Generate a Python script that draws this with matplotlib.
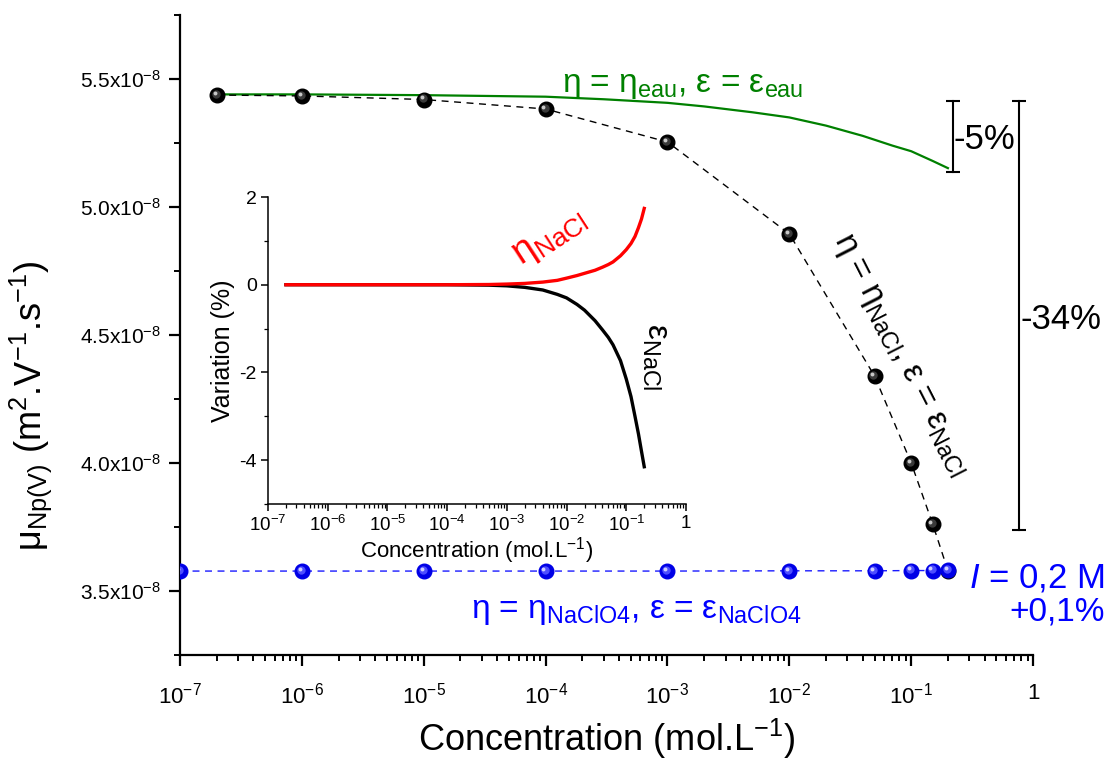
import numpy as np
import matplotlib.pyplot as plt
from matplotlib import transforms
from matplotlib.ticker import FixedLocator, LogLocator, NullFormatter, MultipleLocator

plt.rcParams['font.family'] = ['Liberation Sans', 'DejaVu Sans']
plt.rcParams['mathtext.fontset'] = 'custom'
plt.rcParams['mathtext.rm'] = 'Liberation Sans'
plt.rcParams['mathtext.it'] = 'Liberation Sans:italic'
plt.rcParams['mathtext.bf'] = 'Liberation Sans:bold'

# main plot data (mobility, m2/V/s)
conc_nacl = [2e-7, 1e-6, 1e-5, 1e-4, 1e-3, 1e-2, 0.05, 0.1, 0.15, 0.2]
mob_nacl = [5.4375e-8, 5.434e-8, 5.42e-8, 5.383e-8, 5.254e-8, 4.895e-8, 4.34e-8, 4.0e-8, 3.762e-8, 3.58e-8]

conc_clo4 = [1e-7, 1e-6, 1e-5, 1e-4, 1e-3, 1e-2, 0.05, 0.1, 0.15, 0.2]
mob_clo4 = [3.578e-8, 3.578e-8, 3.578e-8, 3.578e-8, 3.578e-8, 3.579e-8, 3.579e-8, 3.58e-8, 3.58e-8, 3.581e-8]

conc_eau = [2e-7, 1e-6, 1e-5, 1e-4, 3e-4, 1e-3, 2e-3, 5e-3, 1e-2, 2e-2, 4e-2, 7e-2, 0.1, 0.15, 0.2]
mob_eau = [5.44e-8, 5.44e-8, 5.437e-8, 5.431e-8, 5.421e-8, 5.407e-8, 5.393e-8, 5.37e-8, 5.35e-8,
           5.318e-8, 5.278e-8, 5.24e-8, 5.218e-8, 5.18e-8, 5.152e-8]

# inset data (variation, %)
conc_var = [2e-7, 1e-6, 1e-5, 1e-4, 5e-4, 1e-3, 2e-3, 4e-3, 7e-3, 1e-2, 1.5e-2, 2e-2, 3e-2, 4e-2,
            5e-2, 6e-2, 8e-2, 0.1, 0.12, 0.14, 0.16, 0.18, 0.2]
var_eta = [0, 0, 0, 0, 0.005, 0.015, 0.03, 0.06, 0.1, 0.15, 0.21, 0.26, 0.33, 0.40,
           0.46, 0.52, 0.66, 0.80, 0.94, 1.1, 1.3, 1.5, 1.74]
var_eps = [0, 0, 0, 0, -0.01, -0.025, -0.06, -0.12, -0.22, -0.3, -0.45, -0.58, -0.82, -1.03,
           -1.2, -1.37, -1.73, -2.15, -2.55, -3.0, -3.4, -3.8, -4.15]

x_ticks = [1e-7, 1e-6, 1e-5, 1e-4, 1e-3, 1e-2, 1e-1, 1]
x_labels = ['10$^{-7}$', '10$^{-6}$', '10$^{-5}$', '10$^{-4}$', '10$^{-3}$', '10$^{-2}$', '10$^{-1}$', '1']
y_ticks = [3.5e-8, 4.0e-8, 4.5e-8, 5.0e-8, 5.5e-8]
y_labels = ['3.5x10$^{-8}$', '4.0x10$^{-8}$', '4.5x10$^{-8}$', '5.0x10$^{-8}$', '5.5x10$^{-8}$']

fig = plt.figure(figsize=(11.1, 7.63), dpi=100)
ax = fig.add_axes([0.1622, 0.1415, 0.7685, 0.8388])


def balls(x, y, base, mid, shine, z):
    ax.plot(x, y, 'o', ms=10.5, color=base, mec=base, zorder=z)
    off1 = transforms.offset_copy(ax.transData, fig=fig, x=-0.8, y=0.8, units='points')
    ax.plot(x, y, 'o', ms=6, color=mid, mec='none', transform=off1, zorder=z + 0.1)
    off2 = transforms.offset_copy(ax.transData, fig=fig, x=-1.6, y=1.6, units='points')
    ax.plot(x, y, 'o', ms=2.8, color=shine, mec='none', transform=off2, zorder=z + 0.2)


ax.plot(conc_eau, mob_eau, color='#008000', lw=1.6, zorder=2)
ax.plot(conc_nacl, mob_nacl, color='black', lw=1, ls=(0, (5, 4)), zorder=3)
balls(conc_nacl, mob_nacl, 'black', '#3a3a3a', '#c8c8c8', 4)
ax.plot(conc_clo4, mob_clo4, color='#1a1aff', lw=1, ls=(0, (5, 4)), zorder=6)
balls(conc_clo4, mob_clo4, '#0000e6', '#4d4dff', '#d0d0ff', 7)

ax.set_xscale('log')
ax.set_xlim(1e-7, 1)
ax.set_ylim(3.25e-8, 5.75e-8)
ax.xaxis.set_major_locator(FixedLocator(x_ticks))
ax.set_xticklabels(x_labels, fontsize=16)
ax.xaxis.set_minor_locator(LogLocator(base=10, subs=np.arange(2, 10)))
ax.xaxis.set_minor_formatter(NullFormatter())
ax.yaxis.set_major_locator(FixedLocator(y_ticks))
ax.set_yticklabels(y_labels, fontsize=15)
ax.yaxis.set_minor_locator(MultipleLocator(0.25e-8))
for s in ['top', 'right']:
    ax.spines[s].set_visible(False)
for s in ['left', 'bottom']:
    ax.spines[s].set_linewidth(1.6)
ax.tick_params(which='major', direction='out', length=8, width=1.6, pad=6)
ax.tick_params(which='minor', direction='out', length=4.5, width=1.4)
ax.tick_params(axis='x', which='major', pad=12)

ax.set_xlabel('Concentration (mol.L$^{-1}$)', fontsize=26, labelpad=6)
ax.set_ylabel('μ$_{\\mathrm{Np(V)}}$ (m$^2$.V$^{-1}$.s$^{-1}$)', fontsize=26)
ax.yaxis.set_label_coords(-0.148, 0.39)

# annotations
ax.text(0.589, 0.89, 'η = η$_{\\mathrm{eau}}$, ε = ε$_{\\mathrm{eau}}$', transform=ax.transAxes,
        color='#008000', fontsize=24, ha='center', va='center')
ax.text(0.535, 0.068, 'η = η$_{\\mathrm{NaClO4}}$, ε = ε$_{\\mathrm{NaClO4}}$', transform=ax.transAxes,
        color='#0000ff', fontsize=24, ha='center', va='center')
ax.text(0.844, 0.469, 'η = η$_{\\mathrm{NaCl}}$, ε = ε$_{\\mathrm{NaCl}}$', transform=ax.transAxes,
        color='black', fontsize=24, ha='center', va='center', rotation=-63, rotation_mode='anchor')
ax.text(1.084, 0.12, '$\\mathit{I}$ = 0,2 M', transform=ax.transAxes, color='#0000ff',
        fontsize=25, ha='right', va='center', clip_on=False)
ax.text(1.084, 0.067, '+0,1%', transform=ax.transAxes, color='#0000ff',
        fontsize=24, ha='right', va='center', clip_on=False)

blend = transforms.blended_transform_factory(ax.transAxes, ax.transData)
ax.plot([0.906, 0.906], [5.414e-8, 5.137e-8], color='black', lw=1.5, marker='_', ms=10, mew=1.5,
        transform=blend, clip_on=False)
ax.plot([0.9836, 0.9836], [5.414e-8, 3.738e-8], color='black', lw=1.5, marker='_', ms=10, mew=1.5,
        transform=blend, clip_on=False)
ax.text(0.907, 5.262e-8, '-5%', transform=blend, fontsize=25, ha='left', va='center')
ax.text(0.985, 4.56e-8, '-34%', transform=blend, fontsize=25, ha='left', va='center', clip_on=False)

# inset
ins = fig.add_axes([0.2414, 0.3394, 0.3766, 0.4024])
ins.plot(conc_var, var_eps, color='black', lw=2.4)
ins.plot(conc_var, var_eta, color='#ff0000', lw=2.4)
ins.set_xscale('log')
ins.set_xlim(1e-7, 1)
ins.set_ylim(-5, 2)
ins.xaxis.set_major_locator(FixedLocator(x_ticks))
ins.set_xticklabels(x_labels, fontsize=13.5)
ins.xaxis.set_minor_locator(LogLocator(base=10, subs=np.arange(2, 10)))
ins.xaxis.set_minor_formatter(NullFormatter())
ins.yaxis.set_major_locator(FixedLocator([-4, -2, 0, 2]))
ins.set_yticklabels(['-4', '-2', '0', '2'], fontsize=14)
ins.yaxis.set_minor_locator(FixedLocator([-5, -3, -1, 1]))
for s in ['top', 'right']:
    ins.spines[s].set_visible(False)
for s in ['left', 'bottom']:
    ins.spines[s].set_linewidth(1.1)
ins.tick_params(which='major', direction='out', length=5, width=1.1, pad=3)
ins.tick_params(which='minor', direction='out', length=3, width=0.9)
ins.set_xlabel('Concentration (mol.L$^{-1}$)', fontsize=16, labelpad=0)
ins.set_ylabel('Variation (%)', fontsize=18, labelpad=3)
ins.text(0.675, 0.87, 'η$_{\\mathrm{NaCl}}$', transform=ins.transAxes, color='#ff0000',
         fontsize=27, ha='center', va='center', rotation=33)
ins.text(0.926, 0.479, 'ε$_{\\mathrm{NaCl}}$', transform=ins.transAxes, color='black',
         fontsize=24, ha='center', va='center', rotation=-90)

fig.savefig('out.png', dpi=100)
